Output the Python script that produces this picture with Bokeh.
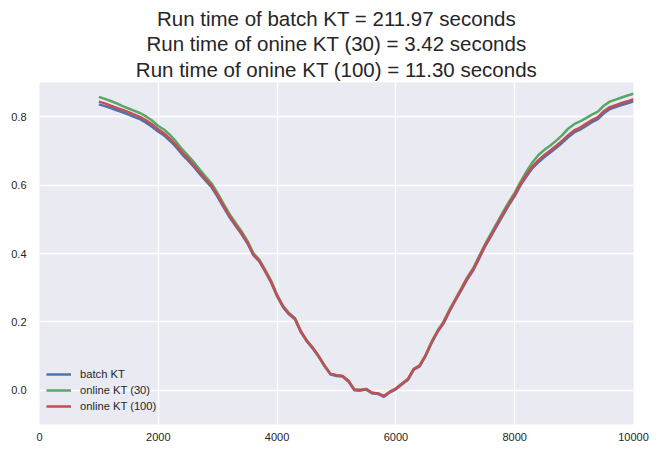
from bokeh.plotting import figure
from bokeh.models import Range1d, FixedTicker, PrintfTickFormatter, Title, Legend, LegendItem
from bokeh.embed import file_html
from bokeh.resources import INLINE

x_vals = list(range(1000, 10001, 100))

batch_kt = [
    0.836, 0.831, 0.825, 0.819, 0.813, 0.806, 0.799, 0.792, 0.782, 0.770,
    0.756, 0.745, 0.729, 0.711, 0.690, 0.672, 0.653, 0.632, 0.612, 0.593,
    0.565, 0.535, 0.506, 0.481, 0.457, 0.430, 0.395, 0.377, 0.347, 0.315,
    0.275, 0.243, 0.222, 0.208, 0.170, 0.143, 0.122, 0.098, 0.070, 0.046,
    0.042, 0.040, 0.026, 0.000, -0.001, 0.002, -0.009, -0.011, -0.019, -0.006,
    0.003, 0.017, 0.030, 0.060, 0.070, 0.100, 0.138, 0.170, 0.195, 0.230,
    0.262, 0.292, 0.324, 0.350, 0.385, 0.420, 0.450, 0.481, 0.511, 0.541,
    0.568, 0.600, 0.626, 0.650, 0.667, 0.682, 0.695, 0.709, 0.724, 0.740,
    0.754, 0.762, 0.773, 0.784, 0.793, 0.810, 0.822, 0.828, 0.834, 0.839,
    0.845,
]

online_kt_30 = [
    0.858, 0.852, 0.846, 0.839, 0.831, 0.824, 0.817, 0.810, 0.800, 0.788,
    0.773, 0.762, 0.746, 0.727, 0.705, 0.686, 0.667, 0.645, 0.624, 0.604,
    0.576, 0.545, 0.515, 0.490, 0.465, 0.437, 0.401, 0.382, 0.352, 0.320,
    0.279, 0.247, 0.226, 0.211, 0.173, 0.146, 0.125, 0.100, 0.072, 0.048,
    0.044, 0.042, 0.028, 0.002, 0.001, 0.004, -0.007, -0.009, -0.017, -0.004,
    0.005, 0.019, 0.033, 0.063, 0.073, 0.103, 0.142, 0.174, 0.200, 0.235,
    0.267, 0.298, 0.330, 0.357, 0.392, 0.427, 0.458, 0.489, 0.520, 0.550,
    0.578, 0.610, 0.640, 0.667, 0.688, 0.703, 0.716, 0.730, 0.746, 0.765,
    0.778, 0.786, 0.796, 0.806, 0.815, 0.832, 0.844, 0.850, 0.856, 0.862,
    0.867,
]

online_kt_100 = [
    0.844, 0.839, 0.832, 0.826, 0.820, 0.813, 0.806, 0.799, 0.789, 0.777,
    0.763, 0.751, 0.735, 0.717, 0.696, 0.678, 0.658, 0.637, 0.617, 0.597,
    0.569, 0.539, 0.509, 0.484, 0.460, 0.432, 0.397, 0.379, 0.349, 0.317,
    0.277, 0.245, 0.224, 0.210, 0.172, 0.145, 0.124, 0.100, 0.072, 0.048,
    0.044, 0.042, 0.028, 0.002, 0.001, 0.004, -0.007, -0.009, -0.017, -0.004,
    0.005, 0.019, 0.032, 0.062, 0.072, 0.102, 0.140, 0.172, 0.197, 0.232,
    0.264, 0.295, 0.327, 0.353, 0.388, 0.423, 0.453, 0.485, 0.515, 0.545,
    0.572, 0.604, 0.631, 0.655, 0.673, 0.688, 0.701, 0.715, 0.730, 0.746,
    0.760, 0.768, 0.779, 0.790, 0.799, 0.816, 0.828, 0.834, 0.840, 0.845,
    0.851,
]

series_names = ["batch KT", "online KT (30)", "online KT (100)"]
title_lines = [
    "Run time of batch KT = 211.97 seconds",
    "Run time of onine KT (30) = 3.42 seconds",
    "Run time of onine KT (100) = 11.30 seconds",
]
x_ticks = [0, 2000, 4000, 6000, 8000, 10000]
y_ticks = [0.0, 0.2, 0.4, 0.6, 0.8]

FONT = "Liberation Sans"

p = figure(width=664, height=457, output_backend="svg", toolbar_location=None,
           x_range=Range1d(0, 10000), y_range=Range1d(-0.1, 0.9),
           min_border_left=39, min_border_right=31, min_border_top=82, min_border_bottom=33)
p.title = None
p.background_fill_color = "#EAEAF2"
p.border_fill_color = "white"
p.outline_line_color = None

for g in (p.xgrid[0], p.ygrid[0]):
    g.grid_line_color = "white"
    g.grid_line_width = 1.3

for ax in (p.xaxis[0], p.yaxis[0]):
    ax.axis_line_color = None
    ax.major_tick_line_color = None
    ax.minor_tick_line_color = None
    ax.major_label_text_font = FONT
    ax.major_label_text_font_size = "11px"
    ax.major_label_text_color = "#262626"
p.yaxis[0].major_label_standoff = 7
p.xaxis[0].major_label_standoff = 2

p.xaxis[0].ticker = FixedTicker(ticks=x_ticks)
p.yaxis[0].ticker = FixedTicker(ticks=y_ticks)
p.xaxis[0].formatter = PrintfTickFormatter(format="%d")
p.yaxis[0].formatter = PrintfTickFormatter(format="%.1f")

colors = ["#4C72B0", "#55A868", "#C44E52"]
renderers = []
for ys, c in zip([batch_kt, online_kt_30, online_kt_100], colors):
    r = p.line(x_vals, ys, line_color=c, line_width=2.5)
    renderers.append(r)

legend = Legend(items=[LegendItem(label=n, renderers=[r]) for n, r in zip(series_names, renderers)],
                location=(7, 10), margin=0, padding=8, spacing=0,
                glyph_width=25, glyph_height=16, label_height=16,
                label_text_font=FONT, label_text_font_size="11.2px", label_text_color="#262626",
                background_fill_alpha=0, border_line_color=None, label_standoff=9)
p.add_layout(legend, "center")

for i, line in enumerate(reversed(title_lines)):
    t = Title(text=line, align="center", text_font=FONT, text_font_size="20.5px",
              text_font_style="normal", text_color="#262626",
              standoff=3 if i == 0 else 0, offset=0)
    p.add_layout(t, "above")

open("out.html", "w").write(file_html(p, INLINE))
